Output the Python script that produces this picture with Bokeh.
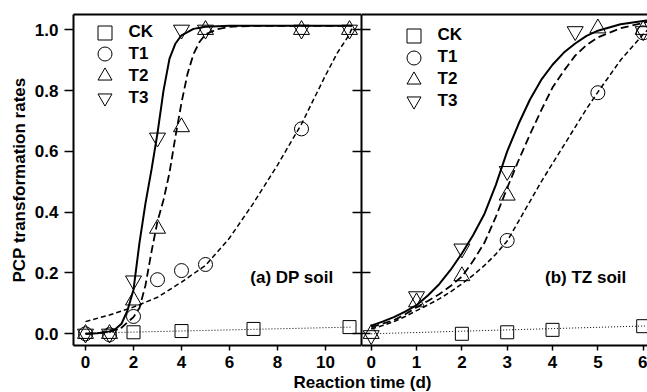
from bokeh.plotting import figure
from bokeh.models import (LinearAxis, FixedTicker, Range1d, Legend, LegendItem, Label,
                          CustomLabelingPolicy)
from bokeh.layouts import row, column
from bokeh.embed import file_html
from bokeh.resources import INLINE

# ---------------- data: (a) DP soil ----------------
dp_ck_x = [2, 4, 7, 11]
dp_ck_y = [0.005, 0.009, 0.016, 0.022]
dp_t1_x = [0, 1, 2, 3, 4, 5, 9]
dp_t1_y = [0.0, -0.003, 0.057, 0.178, 0.208, 0.228, 0.674]
dp_t2_x = [0, 1, 2, 3, 4, 5, 9, 11]
dp_t2_y = [0.0, 0.0, 0.11, 0.346, 0.68, 1.0, 1.0, 1.0]
dp_t3_x = [0, 1, 2, 3, 4, 5, 9, 11]
dp_t3_y = [0.0, 0.0, 0.175, 0.645, 1.0, 1.0, 1.0, 1.0]

# fitted curves
dp_ck_fit_x = [0, 11.1]
dp_ck_fit_y = [0.002, 0.022]
dp_t1_fit_x = [0, 1, 2, 3, 4, 5, 6, 7, 8, 9, 10, 10.5, 11, 11.1]
dp_t1_fit_y = [0.04, 0.062, 0.088, 0.12, 0.17, 0.225, 0.315, 0.43, 0.555, 0.69, 0.85, 0.925, 0.985, 1.005]
dp_t2_fit_x = [0, 0.5, 1, 1.5, 2, 2.25, 2.5, 2.75, 3, 3.25, 3.5, 3.75, 4, 4.25, 4.5, 4.75, 5, 5.5, 6, 7, 9, 11.1]
dp_t2_fit_y = [0.0, 0.002, 0.006, 0.02, 0.055, 0.085, 0.16, 0.27, 0.37, 0.44, 0.53, 0.65, 0.76, 0.855, 0.92, 0.96, 0.985, 1.002, 1.01, 1.013, 1.013, 1.013]
dp_t3_fit_x = [0, 0.5, 1, 1.25, 1.5, 1.75, 2, 2.25, 2.5, 2.75, 3, 3.25, 3.5, 3.75, 4, 4.5, 5, 6, 8, 11.1]
dp_t3_fit_y = [0.0, 0.002, 0.008, 0.016, 0.033, 0.077, 0.145, 0.3, 0.43, 0.54, 0.66, 0.8, 0.905, 0.955, 0.982, 1.003, 1.01, 1.013, 1.013, 1.013]

# ---------------- data: (b) TZ soil ----------------
tz_ck_x = [2, 3, 4, 6]
tz_ck_y = [0.0, 0.005, 0.013, 0.025]
tz_t1_x = [3, 5, 6]
tz_t1_y = [0.307, 0.793, 0.99]
tz_t2_x = [0, 1, 2, 3, 5, 6]
tz_t2_y = [0.0, 0.104, 0.19, 0.455, 1.005, 1.0]
tz_t3_x = [0, 1, 2, 3, 4.5, 6]
tz_t3_y = [-0.005, 0.123, 0.28, 0.535, 0.995, 0.995]

tz_fit_x = [0, 0.25, 0.5, 0.75, 1, 1.25, 1.5, 1.75, 2, 2.25, 2.5, 2.75, 3, 3.25, 3.5, 3.75, 4, 4.25, 4.5, 4.75, 5, 5.5, 6, 6.1]
tz_ck_fit_x = [0, 6.1]
tz_ck_fit_y = [0.0, 0.026]
tz_t1_fit_y = [0.016, 0.027, 0.04, 0.057, 0.076, 0.095, 0.115, 0.138, 0.164, 0.193, 0.225, 0.262, 0.305, 0.37, 0.435, 0.5, 0.56, 0.62, 0.68, 0.74, 0.795, 0.9, 0.985, 1.0]
tz_t2_fit_y = [0.022, 0.033, 0.045, 0.064, 0.087, 0.108, 0.13, 0.157, 0.188, 0.24, 0.3, 0.385, 0.48, 0.57, 0.655, 0.735, 0.81, 0.865, 0.915, 0.95, 0.975, 1.005, 1.023, 1.026]
tz_t3_fit_y = [0.027, 0.04, 0.055, 0.073, 0.094, 0.126, 0.163, 0.21, 0.264, 0.325, 0.395, 0.49, 0.6, 0.69, 0.77, 0.835, 0.885, 0.925, 0.955, 0.98, 0.997, 1.018, 1.029, 1.031]

y_ticks = [0.0, 0.2, 0.4, 0.6, 0.8, 1.0]
y_tick_labels = ["0.0", "0.2", "0.4", "0.6", "0.8", "1.0"]
dp_x_ticks = [0, 2, 4, 6, 8, 10]
tz_x_ticks = [0, 1, 2, 3, 4, 5, 6]
series_names = ["CK", "T1", "T2", "T3"]

FONT = "Liberation Sans"
FS = "17px"
Y_RANGE = (-0.0385, 1.0503)
FRAME_H = 331
ROW_H = 14 + FRAME_H + 30
LABEL_H = 22
LABEL_OVERLAP = ROW_H + LABEL_H - 392


def make_fig(width, xr, min_left):
    p = figure(width=width, height=ROW_H, x_range=Range1d(*xr), y_range=Range1d(*Y_RANGE),
               output_backend="svg", toolbar_location=None,
               x_axis_location=None, y_axis_location=None,
               min_border_left=min_left, min_border_right=0,
               min_border_top=14, min_border_bottom=ROW_H - 14 - FRAME_H)
    p.outline_line_color = None
    p.xgrid.visible = False
    p.ygrid.visible = False
    p.background_fill_color = "white"
    p.border_fill_color = "white"
    return p


def axis(ticks, labels=None, tick_in=0, tick_out=0, show_labels=True):
    ax = LinearAxis(ticker=FixedTicker(ticks=ticks))
    ax.axis_line_width = 2
    ax.axis_line_color = "black"
    ax.major_tick_line_width = 1.5
    ax.major_tick_line_color = "black"
    ax.minor_tick_line_color = None
    ax.major_tick_in = tick_in
    ax.major_tick_out = tick_out
    if show_labels:
        ax.major_label_text_font = FONT
        ax.major_label_text_font_style = "bold"
        ax.major_label_text_font_size = FS
        ax.major_label_text_color = "black"
        if labels is not None:
            ax.major_label_overrides = {t: l for t, l in zip(ticks, labels)}
    else:
        ax.major_label_text_font_size = "0px"
        ax.major_label_standoff = 0
        ax.major_label_policy = CustomLabelingPolicy(code="return []")
    return ax


def draw_panel(p, fits, points):
    (ckx, cky), (t1x, t1y), (t2x, t2y), (t3x, t3y) = fits
    p.line(ckx, cky, line_color="black", line_width=1, line_dash="1 2")
    p.line(t1x, t1y, line_color="black", line_width=1.5, line_dash="5 3")
    p.line(t2x, t2y, line_color="black", line_width=1.8, line_dash="8 4")
    p.line(t3x, t3y, line_color="black", line_width=2)
    markers = ["square", "circle", "triangle", "inverted_triangle"]
    sizes = [13, 14, 16, 16]
    rs = []
    for (x, y), m, s in zip(points, markers, sizes):
        r = p.scatter(x, y, marker=m, size=s, fill_color=None, line_color="black", line_width=1)
        rs.append(r)
    return rs


def add_legend(p, rs, x_left, centers_from_top):
    # one legend box per entry so that the key glyphs can be large and rows tight
    for n, r, c in zip(series_names, rs, centers_from_top):
        lg = Legend(items=[LegendItem(label=n, renderers=[r])],
                    location=(x_left, FRAME_H - c - 17.5), orientation="vertical",
                    glyph_width=35, glyph_height=35, label_height=20, spacing=0,
                    label_standoff=7, padding=0, margin=0,
                    label_text_font=FONT, label_text_font_style="bold",
                    label_text_font_size=FS, label_text_color="black",
                    background_fill_alpha=0, border_line_color=None)
        p.add_layout(lg, "center")


# ---------- left panel ----------
p1 = make_fig(361, (-0.5, 11.5), 73)
yl = axis(y_ticks, y_tick_labels, tick_out=9)
yl.major_label_standoff = 6
yl.axis_label = "PCP transformation rates"
yl.axis_label_text_font = FONT
yl.axis_label_text_font_style = "bold"
yl.axis_label_text_font_size = FS
yl.axis_label_text_color = "black"
yl.axis_label_standoff = 3
p1.add_layout(yl, "left")
xb1 = axis(dp_x_ticks, tick_out=5)
xb1.major_label_standoff = 5
p1.add_layout(xb1, "below")
p1.add_layout(axis([], show_labels=False), "above")
p1.add_layout(axis(y_ticks, tick_in=9, show_labels=False), "right")
rs1 = draw_panel(p1,
                 [(dp_ck_fit_x, dp_ck_fit_y), (dp_t1_fit_x, dp_t1_fit_y),
                  (dp_t2_fit_x, dp_t2_fit_y), (dp_t3_fit_x, dp_t3_fit_y)],
                 [(dp_ck_x, dp_ck_y), (dp_t1_x, dp_t1_y), (dp_t2_x, dp_t2_y), (dp_t3_x, dp_t3_y)])
add_legend(p1, rs1, 13.5, [18, 39.5, 61.5, 83.5])
p1.add_layout(Label(x=8.6, y=0.185, text="(a) DP soil", text_font=FONT, text_font_style="bold",
                    text_font_size=FS, text_align="center", text_baseline="middle",
                    text_color="black"))

# ---------- right panel ----------
p2 = make_fig(286, (-0.214, 6.095), 0)
p2.add_layout(axis(y_ticks, tick_in=9, show_labels=False), "left")
xb2 = axis(tz_x_ticks, tick_out=5)
xb2.major_label_standoff = 5
p2.add_layout(xb2, "below")
p2.add_layout(axis([], show_labels=False), "above")
rs2 = draw_panel(p2,
                 [(tz_ck_fit_x, tz_ck_fit_y), (tz_fit_x, tz_t1_fit_y),
                  (tz_fit_x, tz_t2_fit_y), (tz_fit_x, tz_t3_fit_y)],
                 [(tz_ck_x, tz_ck_y), (tz_t1_x, tz_t1_y), (tz_t2_x, tz_t2_y), (tz_t3_x, tz_t3_y)])
add_legend(p2, rs2, 34.5, [21, 43, 65, 86.5])
p2.add_layout(Label(x=4.73, y=0.185, text="(b) TZ soil", text_font=FONT, text_font_style="bold",
                    text_font_size=FS, text_align="center", text_baseline="middle",
                    text_color="black"))

# ---------- shared x label (slightly overlapping the row's transparent bottom) ----------
p3 = figure(width=647, height=LABEL_H, x_range=Range1d(0, 1), y_range=Range1d(0, 1),
            output_backend="svg", toolbar_location=None,
            x_axis_location=None, y_axis_location=None,
            min_border=0, margin=(-LABEL_OVERLAP, 0, 0, 0))
p3.outline_line_color = None
p3.xgrid.visible = False
p3.ygrid.visible = False
p3.background_fill_alpha = 0
p3.border_fill_alpha = 0
p3.add_layout(Label(x=362, y=LABEL_H / 2 - 1, x_units="screen", y_units="screen",
                    text="Reaction time (d)",
                    text_font=FONT, text_font_style="bold", text_font_size=FS,
                    text_align="center", text_baseline="middle", text_color="black"))

layout = column(row(p1, p2, spacing=0), p3, spacing=0)
open("out.html", "w").write(file_html(layout, INLINE))
